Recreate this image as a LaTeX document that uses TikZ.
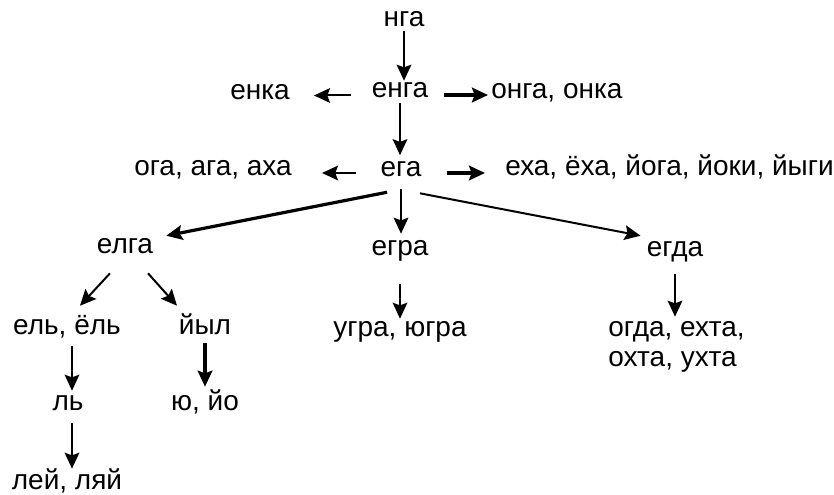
\documentclass[tikz,border=0pt]{standalone}
\usepackage{fontspec}
\setmainfont{Liberation Sans}
\usetikzlibrary{arrows.meta}

\tikzset{
  word/.style={inner sep=0pt, text height=1ex, text depth=0pt,
    font=\fontsize{21}{24}\selectfont},
  arr/.style={line width=1.5pt, -{Stealth[length=12pt,width=11pt,inset=2pt]}},
  arrbold/.style={arr, line width=2.4pt}
}

\begin{document}
\begin{tikzpicture}[x=0.75pt,y=-0.75pt]
\useasboundingbox (0,0) rectangle (834,495);

% words
\node[word] (nga)  at (404,22.5) {нга};
\node[word] (enga) at (400,93.5) {енга};
\node[word] (enka) at (260,95.5) {енка};
\node[word,anchor=west] (onga) at (491,95) {онга, онка};
\node[word] (oga)  at (213,171.5) {ога, ага, аха};
\node[word] (ega)  at (401,173) {ега};
\node[word,anchor=west] (exa) at (505,172) {еха, ёха, йога, йоки, йыги};
\node[word] (elga) at (125,249.5) {елга};
\node[word] (egra) at (400,251.5) {егра};
\node[word] (egda) at (675,252.5) {егда};
\node[word] (el)   at (67,330.5) {ель, ёль};
\node[word] (jyl)  at (205,330.5) {йыл};
\node[word] (l)    at (68,406.5) {ль};
\node[word] (yu)   at (205,406.5) {ю, йо};
\node[word] (lej)  at (67,485.5) {лей, ляй};
\node[word] (ugra) at (400,332.5) {угра, югра};
\node[word,anchor=west] (ogda) at (608,332.5) {огда, ехта,};
\node[word,anchor=west] (oxta) at (608,362.5) {охта, ухта};

% arrows
\draw[arr,shorten <=3.75pt,shorten >=6.75pt] (nga.south) -- (nga.south |- enga.north);
\draw[arr,shorten <=15.75pt,shorten >=18pt] (enga.west |- enka) -- (enka.east);
\draw[arrbold,shorten <=12pt,shorten >=2.25pt] (enga.east |- onga.west) -- (onga.west);
\draw[arr,shorten <=4.5pt,shorten >=10.5pt] (enga.south) -- (enga.south |- ega.north);
\draw[arr,shorten <=18pt,shorten >=22.5pt] (ega.west) -- (ega.west -| oga.east);
\draw[arrbold,shorten <=18.75pt,shorten >=15pt] (ega.east) -- (ega.east -| exa.west);
\draw[arrbold] ([xshift=-10.5pt,yshift=-11.6pt]ega.south) -- ([xshift=9.75pt,yshift=7.5pt]elga.north east);
\draw[arr,shorten <=9.4pt,shorten >=10.5pt] (ega.south) -- (ega.south |- egra.north);
\draw[arr] ([xshift=14.25pt,yshift=-12.4pt]ega.south) -- ([xshift=-4.5pt,yshift=9.75pt]egda.north west);
\draw[arr] ([xshift=-11.25pt,yshift=-15pt]elga.south) -- ([xshift=9.75pt,yshift=15.75pt]el.north);
\draw[arr] ([xshift=17.25pt,yshift=-15pt]elga.south) -- ([xshift=-21pt,yshift=15.75pt]jyl.north);
\draw[arr,shorten <=9pt,shorten >=9pt] ([xshift=3.75pt]el.south) -- ([xshift=3pt]l.north);
\draw[arr,shorten <=9.75pt,shorten >=9.75pt] ([xshift=3pt]l.south) -- ([xshift=3.75pt]lej.north);
\draw[arrbold,shorten <=6.75pt,shorten >=12pt] (jyl.south) -- (jyl.south |- yu.north);
\draw[arr,shorten <=21.75pt,shorten >=7.5pt] (egra.south) -- (egra.south |- ugra.north);
\draw[arr,shorten <=13.5pt,shorten >=9pt] (egda.south) -- (egda.south |- ogda.north);
\end{tikzpicture}
\end{document}
